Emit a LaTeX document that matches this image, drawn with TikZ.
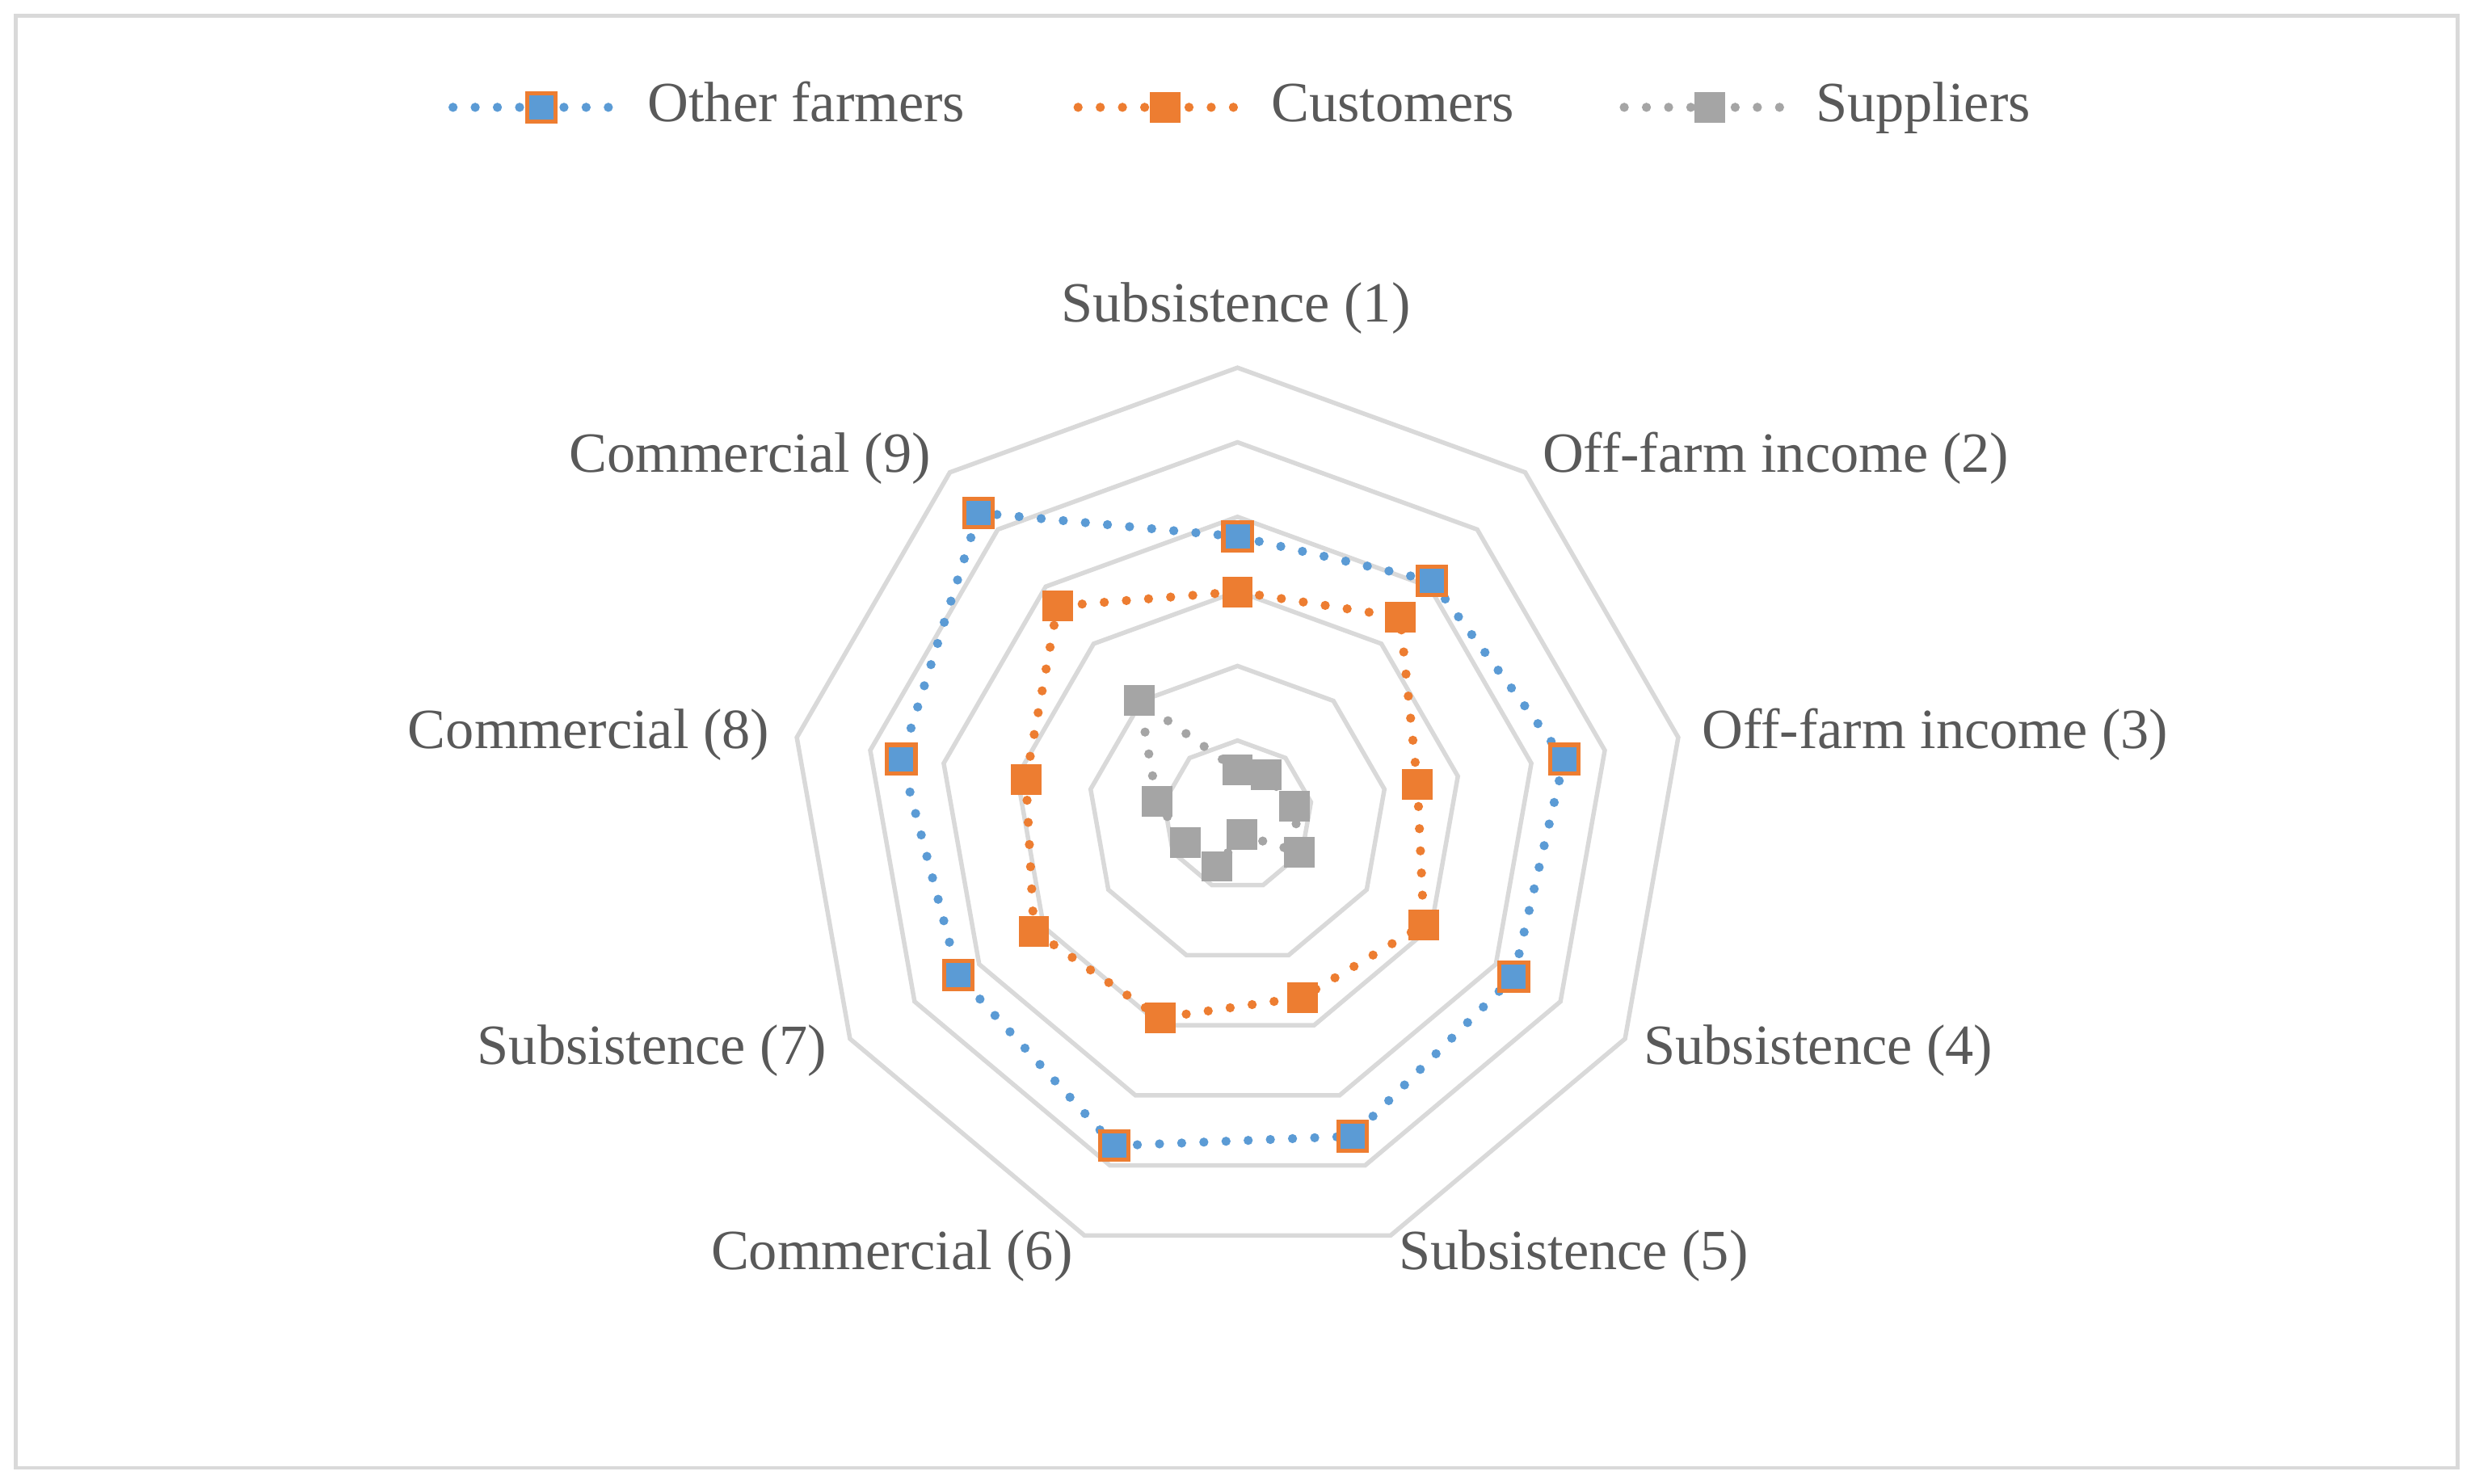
\documentclass[tikz,border=0pt]{standalone}
\usepackage{fontspec}
\setmainfont{Liberation Serif}
\usetikzlibrary{calc}
\begin{document}
\begin{tikzpicture}[x=0.02cm,y=-0.02cm,
  lab/.style={text=txt,font=\fontsize{20.5}{24}\selectfont,inner sep=0pt,text height=0.5cm,text depth=0.13cm},
  ring/.style={draw=gridc,line width=1.6pt},
  ser/.style={line width=3.3pt,line cap=round,dash pattern=on 0pt off 8pt},
  mk/.style={minimum size=0.36cm,inner sep=0pt,draw=#1,fill=#1,line width=0.8pt}]
\definecolor{gridc}{HTML}{D9D9D9}
\definecolor{bl}{HTML}{5B9BD5}
\definecolor{orc}{HTML}{ED7D31}
\definecolor{gr}{HTML}{A5A5A5}
\definecolor{txt}{HTML}{595959}
\useasboundingbox (0,0) rectangle (1568,940);
\draw[gridc,line width=1.2pt] (10,10) rectangle (1557,930);
\coordinate (c) at (784,516.5);
\foreach \r in {1,...,6}{
  \draw[ring] ($(c)+(90:{\r*47.25*0.02cm})$)
    \foreach \k in {1,...,8}{ -- ($(c)+({90-40*\k}:{\r*47.25*0.02cm})$)} -- cycle;
}
% axis labels
\node[lab] (l1) at (783,195) {Subsistence (1)};
\node[lab] (l2) at (1125,290) {Off-farm income (2)};
\node[lab] (l3) at (1226,465) {Off-farm income (3)};
\node[lab] (l4) at (1152,665) {Subsistence (4)};
\node[lab] (l5) at (997,795) {Subsistence (5)};
\node[lab] (l6) at (565,795) {Commercial (6)};
\node[lab] (l7) at (413,665) {Subsistence (7)};
\node[lab] (l8) at (373,465) {Commercial (8)};
\node[lab] (l9) at (475,290) {Commercial (9)};
% suppliers
\foreach \i/\x/\y in {1/784/488,2/802/491,3/820/511,4/823/540,5/787/529,6/771/549,7/751/534,8/733/508,9/722/444}
  \coordinate (s\i) at (\x,\y);
\draw[ser,gr] (s1)--(s2)--(s3)--(s4)--(s5)--(s6)--(s7)--(s8)--(s9)--cycle;
\foreach \i in {1,...,9} \node[mk=gr] at (s\i) {};
% customers
\foreach \i/\x/\y in {1/784/375,2/887/391,3/898/497,4/902/586,5/825/632,6/735/645,7/655/590,8/650/494,9/670/384}
  \coordinate (c\i) at (\x,\y);
\draw[ser,orc] (c1)--(c2)--(c3)--(c4)--(c5)--(c6)--(c7)--(c8)--(c9)--cycle;
\foreach \i in {1,...,9} \node[mk=orc] at (c\i) {};
% other farmers
\foreach \i/\x/\y in {1/784/340,2/907/368,3/991/481,4/959/619,5/857/720,6/706/726,7/607/618,8/571/481,9/620/325}
  \coordinate (o\i) at (\x,\y);
\draw[ser,bl] (o1)--(o2)--(o3)--(o4)--(o5)--(o6)--(o7)--(o8)--(o9)--cycle;
\foreach \i in {1,...,9} \node[mk=bl,draw=orc,line width=1.5pt] at (o\i) {};
% legend
\coordinate (a1) at (287,68); \coordinate (a2) at (398,68);
\draw[ser,bl] (a1)--(a2);
\node[mk=bl,draw=orc,line width=1.5pt] (m1) at (343,68) {};
\node[lab,anchor=west] (t1) at (410,68) {Other farmers};
\coordinate (b1) at (683,68); \coordinate (b2) at (794,68);
\draw[ser,orc] (b1)--(b2);
\node[mk=orc] (m2) at (738,68) {};
\node[lab,anchor=west] (t2) at (805,68) {Customers};
\coordinate (d1) at (1029,68); \coordinate (d2) at (1140,68);
\draw[ser,gr] (d1)--(d2);
\node[mk=gr] (m3) at (1083,68) {};
\node[lab,anchor=west] (t3) at (1150,68) {Suppliers};
\end{tikzpicture}
\end{document}
